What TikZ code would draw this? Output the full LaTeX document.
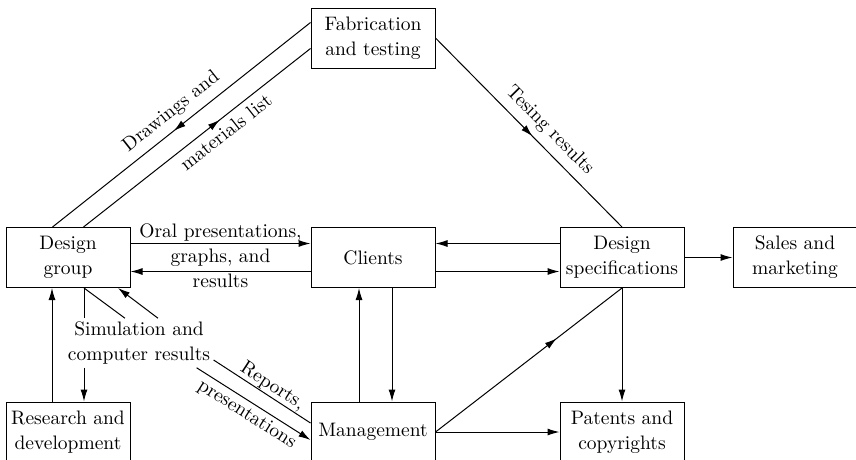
\documentclass[tikz,border=0pt]{standalone}
\usepackage{fontspec}
\setmainfont{lmroman10-regular.otf}[BoldFont=lmroman10-bold.otf, ItalicFont=lmroman10-italic.otf]
\usetikzlibrary{arrows.meta,decorations.markings}
\tikzset{
  midarrow/.style={
    decoration={
      markings,
      mark=at position #1 with {\arrow{>}}
    },
    postaction={decorate}
  },
  midarrow/.default=0.5,
  block/.style={draw, align=center, minimum width=124pt, minimum height=60pt, inner sep=2pt}
}

\begin{document}
\begin{tikzpicture}[x=1pt, y=-1pt, line width=1pt, >={Latex[length=12pt,width=7pt]},
    font=\fontsize{19.5}{25}\selectfont]
    \useasboundingbox (0,0) rectangle (856,459);
    \clip (0,0) rectangle (856,459);

    % Blocks
    \node[block] (fab) at (373,38) {Fabrication\\and testing};
    \node[block] (dg) at (68,257.5) {Design\\group};
    \node[block] (cl) at (373,257.5) {Clients};
    \node[block] (ds) at (622,257.5) {Design\\specifications};
    \node[block] (sm) at (795,257.5) {Sales and\\marketing};
    \node[block] (rd) at (68,432) {Research and\\development};
    \node[block] (mg) at (373,432) {Management};
    \node[block] (pc) at (622,432) {Patents and\\copyrights};
    \node[align=center, inner sep=3pt] (sim) at (139,343) {Simulation and\\computer results};

    % Design group and fabrication
    \draw[midarrow=0.53] ([yshift=-15pt]fab.north west) -- node[sloped, above, inner sep=7pt, pos=0.5] (drw) {Drawings and} ([xshift=47pt]dg.north west);
    \draw[midarrow=0.6] ([xshift=78pt]dg.north west) -- node[sloped, below, inner sep=6pt, pos=0.59] (mat) {materials list} ([yshift=20pt]fab.south west);
    \draw[midarrow=0.52] (fab.east) -- node[sloped, above, inner sep=7pt, pos=0.55] (tst) {Tesing results} (ds.north);

    % Design group and clients
    \draw[->] ([yshift=14pt]dg.east) -- node[above, inner sep=2pt] (oral) {Oral presentations,} ([yshift=14pt]cl.west);
    \draw[->] ([yshift=-14pt]cl.west) -- node[below, inner sep=2pt] (res) {results} ([yshift=-14pt]dg.east);
    \path (dg.east) -- node (grph) {graphs, and} (cl.west);

    % Clients, specifications and management
    \draw[->] ([yshift=14pt]ds.west) -- ([yshift=14pt]cl.east);
    \draw[->] ([yshift=-14pt]cl.east) -- ([yshift=-14pt]ds.west);
    \draw[->] (ds) -- (sm);
    \draw[->] (ds) -- (pc);
    \draw[midarrow=0.65] (mg.east) -- (ds.south);
    \draw[->] (mg) -- (pc);
    \draw[->] ([xshift=-14pt]mg.north) -- ([xshift=-14pt]cl.south);
    \draw[->] ([xshift=19pt]cl.south) -- ([xshift=19pt]mg.north);

    % Simulation and research
    \draw ([xshift=16pt]dg.south) -- ([xshift=16pt]dg.south |- sim.north);
    \draw ([xshift=16pt]dg.south) -- ([xshift=-14pt]sim.north);
    \draw[->] ([xshift=19pt]sim.north) -- ([xshift=50pt]dg.south);
    \draw[->] ([xshift=16pt]rd.north |- sim.south) -- ([xshift=16pt]rd.north);
    \draw[->] ([xshift=-16pt]rd.north) -- ([xshift=-16pt]dg.south);

    % Reports to management
    \draw ([yshift=-17pt]sim.east) -- node[sloped, above, inner sep=1pt, pos=0.55] (rep) {Reports,} ([yshift=9pt]mg.west);
    \draw[->] ([xshift=-17pt]sim.south east) -- node[sloped, below, inner sep=4pt, pos=0.5] (pres) {presentations} ([yshift=-8pt]mg.west);
\end{tikzpicture}
\end{document}
